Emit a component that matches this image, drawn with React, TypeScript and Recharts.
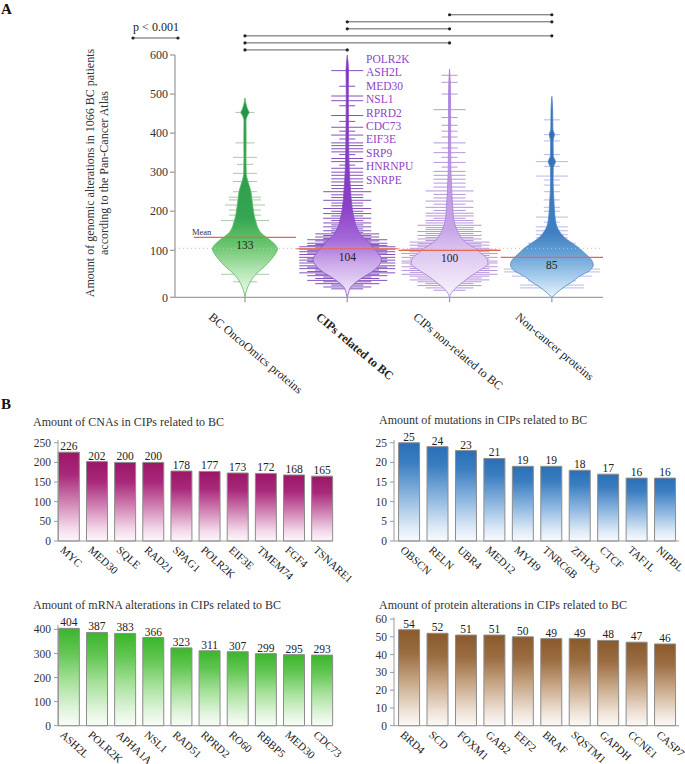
import React from 'react'
import {
  ComposedChart,
  BarChart,
  Area,
  Bar,
  Scatter,
  XAxis,
  YAxis,
  ReferenceLine,
  ReferenceDot,
  LabelList,
} from 'recharts'

const FONT = '"Liberation Serif", "Times New Roman", serif'

// ---- Panel A: amount of genomic alterations per protein group ----
const groups = ['BC OncoOmics proteins', 'CIPs related to BC', 'CIPs non-related to BC', 'Non-cancer proteins']
const groupMeans = [133, 104, 100, 85]
const overallMean = 105
const valueTicks = [0, 100, 200, 300, 400, 500, 600]

// bean outlines: [alterations, half width in group units]
const oncoProfile = [
  [0, 0], [15, 0.015], [30, 0.045], [51, 0.115], [65, 0.19], [79, 0.25], [93, 0.3], [103, 0.318],
  [113, 0.3], [123, 0.26], [135, 0.2], [145, 0.155], [155, 0.13], [170, 0.11], [190, 0.09],
  [210, 0.078], [230, 0.068], [250, 0.058], [263, 0.045], [275, 0.03], [287, 0.018], [300, 0.012],
  [340, 0.01], [390, 0.011], [432, 0.01], [445, 0.025], [453, 0.04], [462, 0.025], [475, 0.01], [490, 0],
]
const cipRelProfile = [
  [0, 0], [8, 0.01], [22, 0.035], [32, 0.085], [42, 0.15], [55, 0.245], [68, 0.31], [80, 0.335],
  [92, 0.31], [105, 0.26], [115, 0.225], [126, 0.19], [135, 0.15], [145, 0.12], [155, 0.1],
  [166, 0.082], [177, 0.072], [190, 0.06], [211, 0.047], [232, 0.038], [255, 0.032], [280, 0.025],
  [306, 0.02], [350, 0.015], [420, 0.012], [500, 0.01], [560, 0.012], [600, 0],
]
const cipNonProfile = [
  [0, 0], [8, 0.015], [22, 0.07], [33, 0.135], [44, 0.2], [58, 0.3], [72, 0.375], [84, 0.36],
  [95, 0.3], [105, 0.25], [118, 0.17], [130, 0.12], [143, 0.088], [160, 0.06], [177, 0.042],
  [195, 0.034], [212, 0.03], [240, 0.023], [263, 0.02], [300, 0.013], [400, 0.01], [500, 0.01], [564, 0],
]
const nonCancerProfile = [
  [0, 0], [8, 0.04], [22, 0.12], [33, 0.2], [44, 0.265], [57, 0.37], [69, 0.405], [80, 0.385],
  [94, 0.32], [105, 0.27], [118, 0.2], [130, 0.135], [143, 0.088], [160, 0.05], [177, 0.035],
  [194, 0.028], [228, 0.02], [280, 0.012], [312, 0.014], [327, 0.035], [342, 0.014], [380, 0.012],
  [396, 0.025], [410, 0.01], [460, 0.008], [494, 0],
]

// bean lines: [alterations, how many proteins overlap there]
const oncoLines = [
  [33, 1.5], [49, 3], [65, 2], [84, 2.5], [176, 3], [190, 2], [203, 2], [216, 2.5], [229, 2], [236, 2],
  [250, 1.5], [276, 1.5], [297, 1.5], [320, 1], [338, 1.5], [375, 1.2], [453, 1.2],
]
const cipRelLines = [
  [18, 2], [22, 3], [26, 2], [29, 4], [33, 3], [36, 5], [40, 4], [43, 3], [46, 5], [49, 4], [52, 6],
  [55, 5], [58, 4], [61, 6], [64, 5], [67, 6], [70, 4], [73, 6], [76, 5], [79, 6], [82, 5], [85, 6],
  [88, 4], [91, 6], [94, 5], [97, 6], [100, 5], [103, 6], [106, 4], [109, 6], [112, 5], [115, 4],
  [118, 5], [121, 3], [124, 4], [127, 5], [130, 3], [134, 4], [138, 3], [142, 4], [146, 2], [150, 3],
  [155, 2], [160, 3], [165, 2], [170, 3], [176, 2], [182, 3], [188, 2], [194, 3], [200, 2], [207, 3],
  [214, 2], [221, 2], [228, 3], [235, 2], [242, 2], [250, 3], [258, 2], [266, 2], [275, 2], [283, 2],
  [292, 2], [300, 2], [310, 2], [318, 1], [327, 2], [335, 2], [345, 1], [352, 2], [360, 2], [368, 2],
  [375, 2], [385, 1], [395, 2], [405, 1], [415, 2], [430, 1], [445, 2], [470, 1], [483, 2], [495, 2],
  [520, 1], [560, 2],
]
const cipNonLines = [
  [15, 2], [20, 3], [25, 4], [29, 3], [33, 4], [37, 5], [41, 4], [45, 5], [49, 6], [53, 5], [57, 6],
  [61, 5], [65, 6], [69, 5], [73, 6], [77, 6], [81, 5], [85, 6], [89, 5], [93, 6], [97, 5], [101, 6],
  [105, 5], [109, 4], [113, 5], [117, 4], [121, 5], [125, 3], [129, 4], [133, 3], [138, 4], [143, 3],
  [148, 4], [153, 3], [158, 3], [164, 4], [170, 3], [176, 3], [182, 2], [188, 3], [195, 3], [202, 2],
  [210, 3], [218, 2], [226, 3], [234, 2], [243, 2], [252, 3], [262, 2], [272, 2], [282, 2], [292, 2],
  [302, 2], [313, 1], [325, 2], [338, 1], [350, 2], [362, 1], [375, 2], [390, 1], [405, 1], [420, 1],
  [440, 1], [460, 2], [500, 1], [530, 1], [548, 1],
]
const nonCancerLines = [
  [20, 4], [26, 4], [35, 3], [45, 5], [54, 6], [60, 6], [65, 5], [72, 4], [80, 4], [88, 3], [96, 3],
  [103, 3], [110, 3], [118, 3], [126, 2], [132, 2], [140, 2], [150, 2], [160, 2], [172, 1], [185, 2],
  [200, 1], [210, 1], [229, 1], [250, 1], [267, 1], [280, 1], [290, 2], [315, 1], [327, 2], [345, 1],
  [380, 1], [396, 1], [434, 1],
]

const highlightGenes = ['POLR2K', 'ASH2L', 'MED30', 'NSL1', 'RPRD2', 'CDC73', 'EIF3E', 'SRP9', 'HNRNPU', 'SNRPE']
// every pair differs with p < 0.001, drawn bottom bracket first
const sigPairs = [[0, 1], [0, 2], [0, 3], [1, 2], [1, 3], [2, 3]]

// ---- Panel B: top ten CIPs per alteration type ----
const cnaGenes = ['MYC', 'MED30', 'SQLE', 'RAD21', 'SPAG1', 'POLR2K', 'EIF3E', 'TMEM74', 'FGF4', 'TSNARE1']
const cnaCounts = [226, 202, 200, 200, 178, 177, 173, 172, 168, 165]
const mutGenes = ['OBSCN', 'RELN', 'UBR4', 'MED12', 'MYH9', 'TNRC6B', 'ZFHX3', 'CTCF', 'TAF1L', 'NIPBL']
const mutCounts = [25, 24, 23, 21, 19, 19, 18, 17, 16, 16]
const mrnaGenes = ['ASH2L', 'POLR2K', 'APHA1A', 'NSL1', 'RAD51', 'RPRD2', 'RO60', 'RBBP5', 'MED30', 'CDC73']
const mrnaCounts = [404, 387, 383, 366, 323, 311, 307, 299, 295, 293]
const protGenes = ['BRD4', 'SCD', 'FOXM1', 'GAB2', 'EEF2', 'BRAF', 'SQSTM1', 'GAPDH', 'CCNE1', 'CASP7']
const protCounts = [54, 52, 51, 51, 50, 49, 49, 48, 47, 46]

// the source axis gives 0-100 more room than each later step of 100
function makeKnotScale(knots: number[], pos: number[]): any {
  let dom = [knots[0], knots[knots.length - 1]]
  let rng = [0, 1]
  const seg = (v: number, arr: number[]) => {
    let i = 0
    while (i < arr.length - 2 && v > arr[i + 1]) i++
    return i
  }
  const scale: any = (v: number) => {
    const i = seg(v, knots)
    const f = pos[i] + ((v - knots[i]) / (knots[i + 1] - knots[i])) * (pos[i + 1] - pos[i])
    return rng[0] + f * (rng[1] - rng[0])
  }
  scale.domain = (d?: number[]) => {
    if (d === undefined) return dom
    dom = d
    return scale
  }
  scale.range = (r?: number[]) => {
    if (r === undefined) return rng
    rng = r
    return scale
  }
  scale.invert = (p: number) => {
    const f = (p - rng[0]) / (rng[1] - rng[0])
    const i = seg(f, pos)
    return knots[i] + ((f - pos[i]) / (pos[i + 1] - pos[i])) * (knots[i + 1] - knots[i])
  }
  scale.copy = () => makeKnotScale(knots, pos).domain(dom).range(rng)
  scale.ticks = () => valueTicks
  scale.tickFormat = () => (v: number) => String(v)
  scale.clamp = () => scale
  scale.nice = () => scale
  return scale
}
const valueScale = makeKnotScale([0, 100, 600], [0, 0.194, 1])

const BEAN_UNIT = 8
const BRACKET_BASE = 613
const BRACKET_STEP = 18

const violins = [
  { key: 'onco', profile: oncoProfile, grad: 'gOnco', stroke: '#5bb65f',
    stops: [[0, '#1f9446'], [0.6, '#34a653'], [0.74, '#6cc56e'], [0.87, '#b5e6b5'], [1, '#f2fbf2']] },
  { key: 'cipRel', profile: cipRelProfile, grad: 'gCipRel', stroke: '#8e4fcc',
    stops: [[0, '#7a2bbd'], [0.62, '#8a3fc6'], [0.76, '#a568d8'], [0.86, '#ccaaea'], [1, '#f6f0fc']] },
  { key: 'cipNon', profile: cipNonProfile, grad: 'gCipNon', stroke: '#a57fd8',
    stops: [[0, '#b07fdc'], [0.7, '#c8a4e8'], [0.8, '#dcc6f0'], [1, '#faf6fd']] },
  { key: 'nonCancer', profile: nonCancerProfile, grad: 'gNonCancer', stroke: '#4f86c6',
    stops: [[0, '#2c69b0'], [0.68, '#3f80c2'], [0.79, '#6aa3d6'], [0.9, '#a8cdec'], [1, '#eaf4fc']] },
]
const beanSets = [
  { lines: oncoLines, color: '#8fb58f', opacity: 0.75 },
  { lines: cipRelLines, color: '#6a2bb0', opacity: 0.82 },
  { lines: cipNonLines, color: '#8a55c8', opacity: 0.62 },
  { lines: nonCancerLines, color: '#7472cf', opacity: 0.5 },
]
const meanRows = groupMeans.map((m, gi) => ({ x: gi, v: m }))

function beanLine(color: string, opacity: number) {
  return (props: any) => {
    const { cx, cy, payload } = props
    if (cx == null || cy == null) return <g />
    const half = payload.n * BEAN_UNIT
    return (
      <line x1={cx - half} x2={cx + half} y1={cy} y2={cy} stroke={color} strokeOpacity={opacity} strokeWidth={1} />
    )
  }
}

function MeanLabel(props: any) {
  const { cx, cy, payload } = props
  if (cx == null || cy == null) return <g />
  return (
    <text x={cx} y={cy + 12} textAnchor="middle" fontSize={11.5} fill="#222">
      {payload.v}
    </text>
  )
}

function GroupTick(props: any) {
  const { x, y, payload } = props
  const bold = payload.value === 1
  const sx = x - (bold ? 32 : 37)
  const sy = y + 14
  return (
    <text x={sx} y={sy} transform={`rotate(40, ${sx}, ${sy})`} fontSize={12} fill="#222" fontWeight={bold ? 'bold' : 'normal'}>
      {groups[payload.value]}
    </text>
  )
}

// both layers of panel A share this frame so their scales line up
const A_W = 685
const A_H = 400
const A_MARGIN = { top: 55, right: 82, bottom: 12.7, left: 0 }
const A_XDOMAIN: [number, number] = [-0.684, 3.5]

function BeanLayer() {
  // bean lines sit underneath the bean shapes
  return (
    <div style={{ position: 'absolute', left: 0, top: 0 }}>
      <ComposedChart width={A_W} height={A_H} layout="vertical" margin={{ ...A_MARGIN }}>
        <XAxis type="number" dataKey="x" domain={[...A_XDOMAIN]} ticks={[0, 1, 2, 3]} height={90}
          axisLine={false} tickLine={false} tick={false} />
        <YAxis type="number" dataKey="v" domain={[0, 600]} ticks={valueTicks} reversed scale={valueScale}
          width={175} axisLine={false} tickLine={false} tick={false} />
        {beanSets.map((b, gi) => (
          <Scatter
            key={`bean${gi}`}
            data={b.lines.map(([v, n]) => ({ x: gi, v, n }))}
            shape={beanLine(b.color, b.opacity)}
            isAnimationActive={false}
          />
        ))}
      </ComposedChart>
    </div>
  )
}

function ViolinPanel() {
  return (
    <div style={{ position: 'absolute', left: 0, top: 0 }}>
      <ComposedChart width={A_W} height={A_H} layout="vertical" margin={{ ...A_MARGIN }}>
        <defs>
          {violins.map((vl) => (
            <linearGradient key={vl.grad} id={vl.grad} x1="0" y1="0" x2="0" y2="1">
              {vl.stops.map(([o, c]) => (
                <stop key={String(o)} offset={o as number} stopColor={c as string} />
              ))}
            </linearGradient>
          ))}
        </defs>
        <XAxis
          type="number"
          dataKey="x"
          domain={[...A_XDOMAIN]}
          ticks={[0, 1, 2, 3]}
          interval={0}
          height={90}
          stroke="#a0a0a0"
          strokeWidth={1.3}
          tickSize={5}
          tick={GroupTick}
        />
        <YAxis
          type="number"
          dataKey="v"
          domain={[0, 600]}
          ticks={valueTicks}
          interval={0}
          reversed
          scale={valueScale}
          width={175}
          stroke="#a0a0a0"
          strokeWidth={1.3}
          tickSize={5}
          tick={{ fontSize: 12, fill: '#333' }}
        />
        <ReferenceLine y={overallMean} stroke="#e3b4ac" strokeDasharray="1 3" />
        {violins.map((vl, gi) => (
          <Area
            key={vl.key}
            data={vl.profile.map(([v, hw]) => ({ v, span: [gi - hw, gi + hw] }))}
            dataKey="span"
            type="monotone"
            fill={`url(#${vl.grad})`}
            fillOpacity={1}
            stroke={vl.stroke}
            strokeWidth={0.8}
            dot={false}
            activeDot={false}
            isAnimationActive={false}
          />
        ))}
        {groupMeans.map((m, gi) => (
          <ReferenceLine
            key={`mean${gi}`}
            segment={[{ x: gi - 0.5, y: m }, { x: gi + 0.5, y: m }]}
            stroke="#e8664f"
            strokeWidth={1.2}
            ifOverflow="visible"
          />
        ))}
        <Scatter data={meanRows} shape={MeanLabel} isAnimationActive={false} />
        {sigPairs.flatMap(([a, b], k) => {
          const lvl = BRACKET_BASE + k * BRACKET_STEP
          return [
            <ReferenceLine
              key={`br${k}`}
              segment={[{ x: a, y: lvl }, { x: b, y: lvl }]}
              stroke="#333"
              strokeWidth={0.8}
              ifOverflow="visible"
            />,
            <ReferenceDot key={`bra${k}`} x={a} y={lvl} r={1.6} fill="#222" stroke="none" ifOverflow="visible" />,
            <ReferenceDot key={`brb${k}`} x={b} y={lvl} r={1.6} fill="#222" stroke="none" ifOverflow="visible" />,
          ]
        })}
      </ComposedChart>
    </div>
  )
}

interface GeneBarProps {
  genes: string[]
  counts: number[]
  gradId: string
  stops: [number, string][]
  left: number
  top: number
  width: number
  height: number
  plotLeft: number
  marginTop: number
  marginRight: number
  marginBottom: number
  xAxisHeight: number
  xDomain: [number, number]
  yDomain: [number, number]
  yTicks: number[]
}

function GeneTick(props: any) {
  const { x, y, payload, genes } = props
  const sx = x - 9
  const sy = y + 3
  return (
    <text x={sx} y={sy} transform={`rotate(42, ${sx}, ${sy})`} fontSize={11} fill="#222">
      {genes[payload.value]}
    </text>
  )
}

function GeneBarChart(p: GeneBarProps) {
  const data = p.genes.map((g, i) => ({ i, gene: g, value: p.counts[i] }))
  return (
    <div style={{ position: 'absolute', left: p.left, top: p.top }}>
      <BarChart
        width={p.width}
        height={p.height}
        data={data}
        margin={{ top: p.marginTop, right: p.marginRight, bottom: p.marginBottom, left: 0 }}
      >
        <defs>
          <linearGradient id={p.gradId} x1="0" y1="0" x2="0" y2="1">
            {p.stops.map(([o, c]) => (
              <stop key={o} offset={o} stopColor={c} />
            ))}
          </linearGradient>
        </defs>
        <XAxis
          type="number"
          dataKey="i"
          domain={p.xDomain}
          ticks={data.map((d) => d.i)}
          interval={0}
          height={p.xAxisHeight}
          stroke="#9a9a9a"
          tickLine={false}
          tickSize={5}
          tick={(tp: any) => <GeneTick {...tp} genes={p.genes} />}
        />
        <YAxis
          type="number"
          domain={p.yDomain}
          ticks={p.yTicks}
          interval={0}
          width={p.plotLeft}
          stroke="#9a9a9a"
          tickSize={4}
          tickMargin={3}
          tick={{ fontSize: 11.5, fill: '#333' }}
        />
        <Bar dataKey="value" barSize={21} fill={`url(#${p.gradId})`} stroke="#8c8c8c" strokeWidth={1} isAnimationActive={false}>
          <LabelList dataKey="value" position="top" offset={2} fontSize={11.5} fill="#222" />
        </Bar>
      </BarChart>
    </div>
  )
}

function Annotations() {
  const titles = [
    { text: 'Amount of CNAs in CIPs related to BC', x: 33, y: 426 },
    { text: 'Amount of mutations in CIPs related to BC', x: 379, y: 424 },
    { text: 'Amount of mRNA alterations in CIPs related to BC', x: 33, y: 608.5 },
    { text: 'Amount of protein alterations in CIPs related to BC', x: 379, y: 608.5 },
  ]
  return (
    <svg
      width={685}
      height={764}
      style={{ position: 'absolute', left: 0, top: 0, pointerEvents: 'none' }}
      fontFamily={FONT}
    >
      <text x={1} y={14} fontSize={15} fontWeight="bold" fill="#111">A</text>
      <text x={1} y={409} fontSize={15} fontWeight="bold" fill="#111">B</text>
      <text transform="translate(90,173) rotate(-90)" textAnchor="middle" dominantBaseline="central" fontSize={12} fill="#333">
        Amount of genomic alterations in 1066 BC patients
      </text>
      <text transform="translate(104,173) rotate(-90)" textAnchor="middle" dominantBaseline="central" fontSize={12} fill="#333">
        according to the Pan-Cancer Atlas
      </text>
      <text x={156} y={31} textAnchor="middle" fontSize={12} fill="#222">p &lt; 0.001</text>
      <line x1={133} x2={178} y1={38} y2={38} stroke="#333" strokeWidth={0.8} />
      <circle cx={133} cy={38} r={1.6} fill="#222" />
      <circle cx={178} cy={38} r={1.6} fill="#222" />
      <text x={192} y={235} fontSize={8.5} fill="#333">Mean</text>
      {highlightGenes.map((g, i) => (
        <text key={g} x={366} y={63 + i * 13.4} fontSize={11.5} fill="#8e44c8">{g}</text>
      ))}
      {titles.map((t) => (
        <text key={t.text} x={t.x} y={t.y} fontSize={12} fill="#333">{t.text}</text>
      ))}
    </svg>
  )
}

export default function App() {
  return (
    <div
      style={{
        position: 'absolute', left: 0, top: 0, width: 685, height: 764, overflow: 'hidden',
        background: '#fff', fontFamily: FONT,
      }}
    >
      <BeanLayer />
      <ViolinPanel />
      <GeneBarChart
        genes={cnaGenes} counts={cnaCounts} gradId="gCna"
        stops={[[0, '#9b1766'], [0.25, '#a8287a'], [0.55, '#cf7fb1'], [0.85, '#f3d9ea'], [1, '#fdf7fb']]}
        left={0} top={430} width={365} height={170} plotLeft={58} marginTop={10} marginRight={32.3} marginBottom={2}
        xAxisHeight={57} xDomain={[-0.37, 9.39]} yDomain={[0, 257]} yTicks={[0, 50, 100, 150, 200, 250]}
      />
      <GeneBarChart
        genes={mutGenes} counts={mutCounts} gradId="gMut"
        stops={[[0, '#2a6fb7'], [0.2, '#3a7dc0'], [0.55, '#8fb8e0'], [0.85, '#dce9f6'], [1, '#f7fbfe']]}
        left={345} top={430} width={360} height={170} plotLeft={49} marginTop={10} marginRight={26} marginBottom={2}
        xAxisHeight={57} xDomain={[-0.52, 9.5]} yDomain={[0, 25.7]} yTicks={[0, 5, 10, 15, 20, 25]}
      />
      <GeneBarChart
        genes={mrnaGenes} counts={mrnaCounts} gradId="gMrna"
        stops={[[0, '#3bb52b'], [0.25, '#62c653'], [0.55, '#a8e29c'], [0.85, '#e3f5df'], [1, '#f8fdf7']]}
        left={0} top={615} width={365} height={160} plotLeft={58} marginTop={10} marginRight={32.3} marginBottom={13}
        xAxisHeight={36.3} xDomain={[-0.37, 9.39]} yDomain={[0, 418]} yTicks={[0, 100, 200, 300, 400]}
      />
      <GeneBarChart
        genes={protGenes} counts={protCounts} gradId="gProt"
        stops={[[0, '#8a5a2c'], [0.25, '#9b6d42'], [0.55, '#c9a98a'], [0.85, '#efe3d8'], [1, '#fcf9f6']]}
        left={345} top={607} width={360} height={168} plotLeft={49} marginTop={10.3} marginRight={26} marginBottom={13}
        xAxisHeight={36.3} xDomain={[-0.52, 9.5]} yDomain={[0, 61]} yTicks={[0, 10, 20, 30, 40, 50, 60]}
      />
      <Annotations />
    </div>
  )
}
